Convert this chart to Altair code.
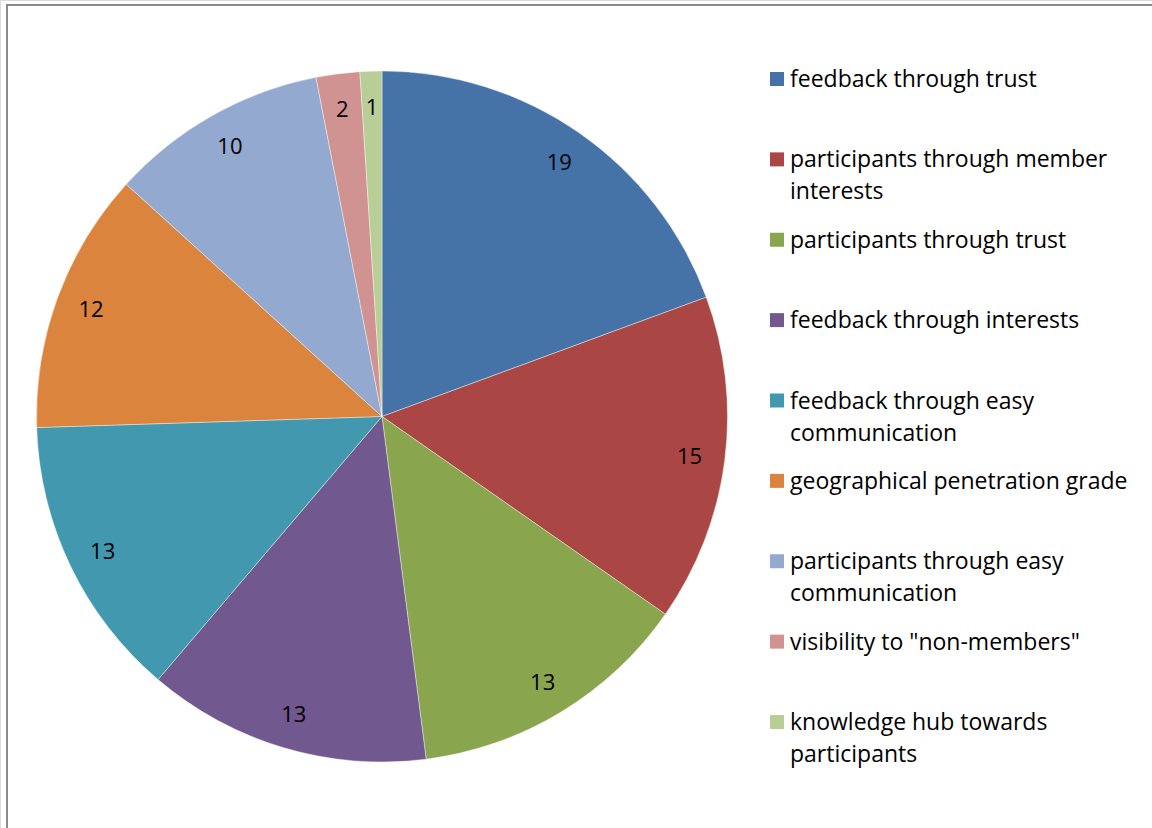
import altair as alt
import pandas as pd

categories = [
    "feedback through trust",
    "participants through member interests",
    "participants through trust",
    "feedback through interests",
    "feedback through easy communication",
    "geographical penetration grade",
    "participants through easy communication",
    'visibility to "non-members"',
    "knowledge hub towards participants",
]
values = [19, 15, 13, 13, 13, 12, 10, 2, 1]
legend_line1 = [
    "feedback through trust",
    "participants through member",
    "participants through trust",
    "feedback through interests",
    "feedback through easy",
    "geographical penetration grade",
    "participants through easy",
    'visibility to "non-members"',
    "knowledge hub towards",
]
legend_line2 = [
    "",
    "interests",
    "",
    "",
    "communication",
    "",
    "communication",
    "",
    "participants",
]
colors = ["#4572A7", "#AA4643", "#89A54E", "#71588F", "#4198AF",
          "#DB843D", "#93A9CF", "#D19392", "#B9CD96"]

FONT = "Open Sans"

df = pd.DataFrame({
    "category": categories,
    "value": values,
    "idx": list(range(len(categories))),
    "line1": legend_line1,
    "line2": legend_line2,
})

color = alt.Color("category:N", scale=alt.Scale(domain=categories, range=colors), legend=None)
theta = alt.Theta("value:Q", stack=True)
order = alt.Order("idx:Q", sort="ascending")

cx, cy = 382, 416.5

pie = alt.Chart(df).mark_arc(
    outerRadius=345.5, stroke="white", strokeWidth=0.4
).encode(
    theta=theta, color=color, order=order,
    x=alt.value(cx), y=alt.value(cy),
)

labels = alt.Chart(df).mark_text(
    radius=310, font=FONT, fontSize=22, color="black", align="center", baseline="middle", dy=1
).encode(
    theta=theta, order=order, text=alt.Text("value:Q"),
    x=alt.value(cx), y=alt.value(cy),
)

ly = alt.Y("idx:Q", scale=alt.Scale(domain=[0, 8], range=[79, 722]), axis=None)

leg_sq = alt.Chart(df).mark_square(size=196, opacity=1, filled=True).encode(
    x=alt.value(777), y=ly, color=color,
)
leg_t1 = alt.Chart(df).mark_text(
    font=FONT, fontSize=23, align="left", baseline="middle", color="black", dy=1
).encode(x=alt.value(790), y=ly, text="line1:N")
leg_t2 = alt.Chart(df).mark_text(
    font=FONT, fontSize=23, align="left", baseline="middle", color="black", dy=33
).encode(x=alt.value(790), y=ly, text="line2:N")

frame = alt.Chart(df).mark_rect(
    fill=None, stroke="#8a8a8a", strokeWidth=2
).encode(
    x=alt.value(7), y=alt.value(5), x2=alt.value(1170), y2=alt.value(850)
)

chart = alt.layer(frame, pie, labels, leg_sq, leg_t1, leg_t2).properties(
    width=1152, height=828, padding=0,
    autosize=alt.AutoSizeParams(type="none"),
).configure_view(stroke=None).configure(background="white")

chart.save("out.html", embed_options={"renderer": "svg", "actions": False})
